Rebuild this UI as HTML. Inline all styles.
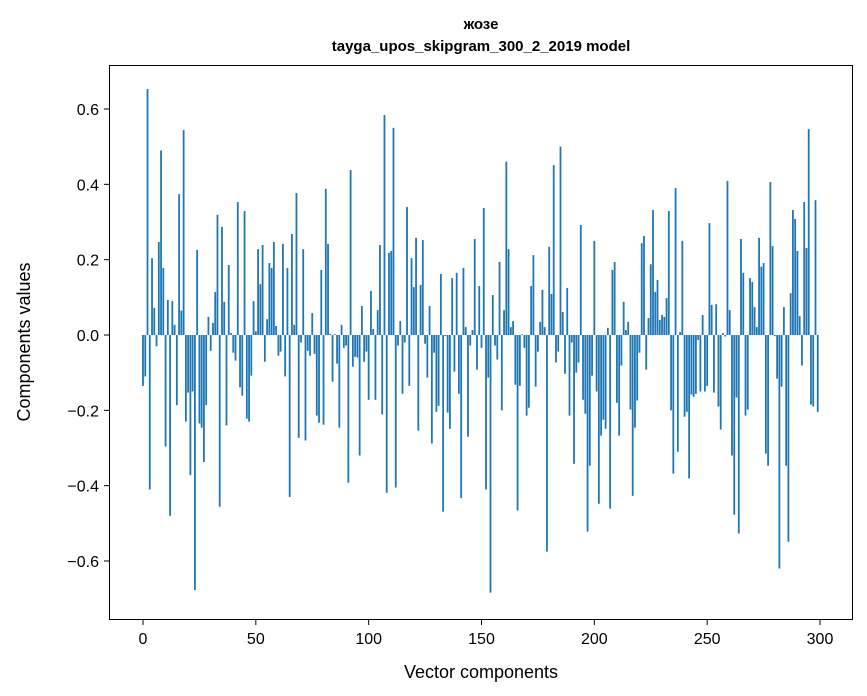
<!DOCTYPE html>
<html><head><meta charset="utf-8"><style>
body{margin:0;background:#fff;}
svg{display:block;font-family:"Liberation Sans","DejaVu Sans",sans-serif;}
</style></head><body>
<svg id="chart" width="867" height="696">
<text x="481" y="29" text-anchor="middle" font-size="15" font-weight="bold">жозе</text>
<text x="481" y="51" text-anchor="middle" font-size="15" font-weight="bold">tayga_upos_skipgram_300_2_2019 model</text>
<g id="bars"></g>
<g id="axes"></g>
<rect x="109.5" y="65.5" width="743" height="554" fill="none" stroke="#000" stroke-width="1"/>
<text x="481" y="678" text-anchor="middle" font-size="18">Vector components</text>
<text transform="translate(30,342) rotate(-90)" text-anchor="middle" font-size="18">Components values</text>
</svg>
<script>
const values = [-0.135,-0.11,0.653,-0.41,0.204,0.072,-0.03,0.247,0.49,0.178,
-0.296,0.093,-0.48,0.09,0.027,-0.186,0.374,0.065,0.544,-0.23,
-0.153,-0.372,-0.15,-0.677,0.226,-0.235,-0.246,-0.337,-0.186,0.048,
-0.042,0.032,0.114,0.319,-0.456,0.287,0.088,-0.24,0.186,0.005,
-0.047,-0.068,0.353,-0.139,-0.161,0.329,-0.222,-0.23,-0.108,0.09,
0.01,0.228,0.135,0.239,-0.071,0.042,0.191,0.178,0.247,0.024,
-0.055,-0.044,0.242,-0.11,0.178,-0.43,0.268,0.027,0.377,-0.273,
-0.02,0.228,-0.28,-0.042,-0.055,0.058,-0.05,-0.214,-0.233,0.173,
-0.238,0.388,0.242,0.003,-0.124,0.002,-0.076,-0.246,0.027,-0.034,
-0.028,-0.392,0.438,-0.084,-0.058,-0.06,-0.32,0.077,-0.071,-0.044,
-0.172,0.117,0.016,-0.172,0.066,0.239,-0.211,0.584,-0.419,0.218,
0.223,0.55,-0.405,-0.028,0.037,-0.156,-0.02,0.34,-0.135,0.204,
0.127,0.258,-0.254,0.133,0.252,-0.023,-0.113,0.077,-0.288,-0.047,
-0.204,-0.188,0.162,-0.469,-0.003,-0.206,-0.249,0.151,-0.097,0.165,
-0.156,-0.433,0.178,0.021,-0.27,-0.028,0.013,0.255,-0.092,0.13,
-0.034,0.337,-0.41,-0.113,-0.684,0.106,-0.028,-0.065,0.194,-0.2,
0.066,0.46,0.228,0.021,0.037,-0.132,-0.466,-0.135,0.002,-0.034,
-0.214,-0.193,0.13,0.212,-0.137,-0.044,0.035,0.12,0.021,-0.575,
0.234,0.109,0.451,-0.073,-0.044,0.5,0.061,-0.103,0.125,-0.214,
-0.02,-0.342,-0.1,-0.073,0.292,-0.172,-0.209,-0.522,-0.347,-0.108,
0.25,-0.15,-0.448,-0.267,-0.225,-0.249,0.019,-0.461,0.173,0.194,
-0.18,-0.267,-0.081,0.088,0.013,0.035,-0.198,-0.427,-0.246,-0.174,
-0.047,0.244,0.263,-0.092,0.045,0.188,0.332,0.114,0.146,0.04,
0.053,0.048,0.098,0.329,-0.2,-0.368,0.39,-0.31,0.008,0.25,
-0.217,-0.204,-0.381,-0.158,-0.164,-0.156,-0.013,-0.15,0.053,-0.15,
-0.135,0.297,0.08,-0.153,0.082,-0.19,-0.251,0.005,-0.004,0.409,
0.066,-0.32,-0.477,-0.166,-0.527,0.255,0.165,-0.214,-0.198,0.151,
0.141,0.074,0.021,0.258,0.181,0.191,-0.315,-0.347,0.406,0.236,
-0.003,-0.116,-0.62,-0.137,0.074,-0.347,-0.549,0.111,0.332,0.308,
0.223,0.05,-0.081,0.353,0.231,0.547,-0.185,-0.19,0.358,-0.204];
const xTicks = [0,50,100,150,200,250,300];
const yTicks = [-0.6,-0.4,-0.2,0.0,0.2,0.4,0.6];
const yTickLabels = ["−0.6","−0.4","−0.2","0.0","0.2","0.4","0.6"];

const NS="http://www.w3.org/2000/svg";
const X0=143, XS=(820-143)/300, Y0=335, YS=(335-109)/0.6;
function sx(v){return X0+v*XS;}
function sy(v){return Y0-v*YS;}
const bars=document.getElementById('bars');
values.forEach((v,i)=>{
  const r=document.createElementNS(NS,'rect');
  const y1=sy(Math.max(v,0)), y2=sy(Math.min(v,0));
  r.setAttribute('x',sx(i-0.4));
  r.setAttribute('width',0.8*XS);
  r.setAttribute('y',y1);
  r.setAttribute('height',Math.max(y2-y1,0.01));
  r.setAttribute('fill','#1f77b4');
  
  
  bars.appendChild(r);
});
const axes=document.getElementById('axes');
xTicks.forEach(t=>{
  const l=document.createElementNS(NS,'line');
  l.setAttribute('x1',sx(t));l.setAttribute('x2',sx(t));
  l.setAttribute('y1',620);l.setAttribute('y2',625);
  l.setAttribute('stroke','#000');
  
  
  axes.appendChild(l);
  const tx=document.createElementNS(NS,'text');
  tx.setAttribute('x',sx(t));tx.setAttribute('y',644);
  tx.setAttribute('text-anchor','middle');tx.setAttribute('font-size','16');
  tx.textContent=t;
  
  
  axes.appendChild(tx);
});
yTicks.forEach((t,i)=>{
  const l=document.createElementNS(NS,'line');
  l.setAttribute('x1',104);l.setAttribute('x2',109);
  l.setAttribute('y1',sy(t));l.setAttribute('y2',sy(t));
  l.setAttribute('stroke','#000');
  
  
  axes.appendChild(l);
  const tx=document.createElementNS(NS,'text');
  tx.setAttribute('x',99);tx.setAttribute('y',sy(t)+6);
  tx.setAttribute('text-anchor','end');tx.setAttribute('font-size','16');
  tx.textContent=yTickLabels[i];
  
  
  axes.appendChild(tx);
});
</script>
</body></html>
